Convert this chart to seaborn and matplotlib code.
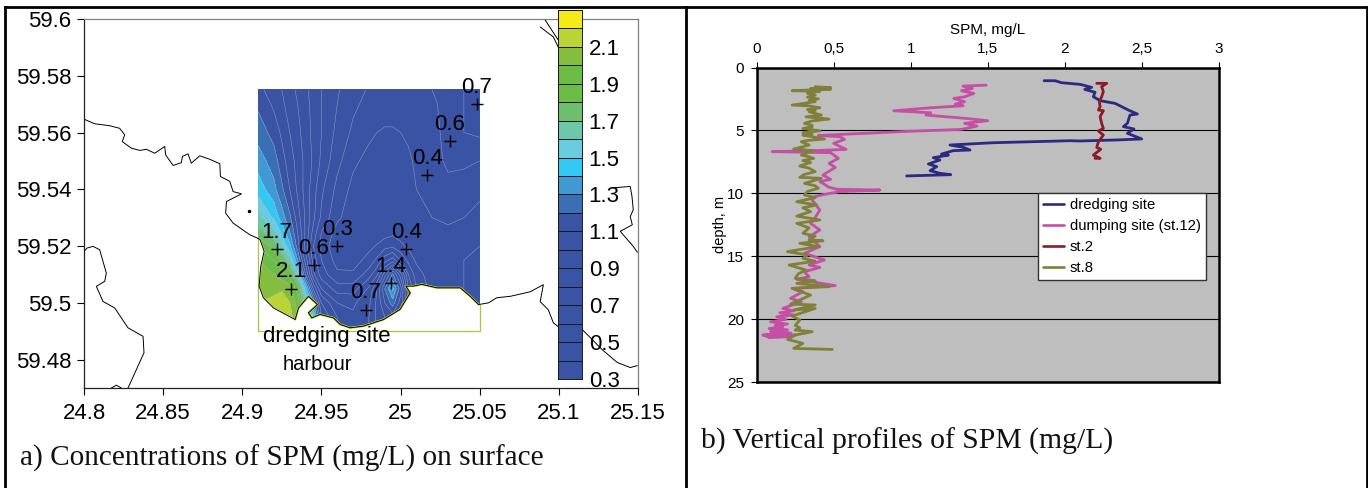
"""
SPM near the dredging site: surface map (a) and vertical profiles (b).

CORRECT COMMAND TO RUN:
    python3 plot.py
"""

import matplotlib
matplotlib.use("Agg")

import matplotlib.pyplot as plt
import numpy as np
import pandas as pd
import seaborn as sns
from matplotlib.colors import BoundaryNorm, ListedColormap
from matplotlib.lines import Line2D

W, H = 1368, 488

# ---------------------------------------------------------------------------
# Data: map
# ---------------------------------------------------------------------------
station_lon = [25.048, 25.031, 25.017, 25.0035, 24.994, 24.978, 24.960, 24.945, 24.922, 24.931]
station_lat = [59.570, 59.557, 59.545, 59.519, 59.507, 59.4976, 59.520, 59.5134, 59.519, 59.505]
station_val = ["0.7", "0.6", "0.4", "0.4", "1.4", "0.7", "0.3", "0.6", "1.7", "2.1"]

field_lon = [24.91, 24.92, 24.925, 24.93, 24.935, 24.94, 24.945, 24.95, 24.96, 24.97, 24.98,
             24.985, 24.99, 24.995, 25.00, 25.005, 25.01, 25.02, 25.03, 25.04, 25.05]
field_lat = [59.49, 59.495, 59.50, 59.505, 59.51, 59.515, 59.52, 59.525, 59.53, 59.54,
             59.55, 59.56, 59.57, 59.575]
field_spm = [
    [2.15, 2.18, 2.18, 2.15, 2.00, 1.80, 1.50, 1.00, 0.80, 0.72, 0.80, 0.92, 1.00, 1.05, 0.90, 0.70, 0.50, 0.36, 0.32, 0.30, 0.30],
    [2.15, 2.18, 2.18, 2.15, 2.00, 1.80, 1.50, 1.00, 0.80, 0.72, 0.80, 0.92, 1.00, 1.05, 0.90, 0.70, 0.50, 0.36, 0.32, 0.30, 0.30],
    [2.10, 2.15, 2.18, 2.10, 1.95, 1.60, 1.30, 0.90, 0.70, 0.68, 0.78, 0.92, 1.10, 1.25, 1.05, 0.80, 0.55, 0.36, 0.32, 0.30, 0.30],
    [2.08, 2.05, 2.08, 2.05, 1.85, 1.45, 0.98, 0.70, 0.55, 0.55, 0.72, 0.90, 1.20, 1.42, 1.15, 0.70, 0.50, 0.36, 0.32, 0.30, 0.30],
    [2.05, 2.00, 1.95, 1.85, 1.55, 1.10, 0.72, 0.55, 0.42, 0.42, 0.55, 0.68, 0.95, 1.22, 0.95, 0.60, 0.45, 0.34, 0.31, 0.30, 0.30],
    [2.00, 1.90, 1.78, 1.62, 1.30, 0.95, 0.65, 0.50, 0.36, 0.35, 0.44, 0.52, 0.66, 0.75, 0.60, 0.47, 0.38, 0.33, 0.31, 0.30, 0.30],
    [1.90, 1.76, 1.60, 1.42, 1.15, 0.85, 0.60, 0.47, 0.32, 0.33, 0.37, 0.41, 0.46, 0.48, 0.42, 0.38, 0.35, 0.32, 0.31, 0.31, 0.30],
    [1.74, 1.62, 1.47, 1.30, 1.10, 0.88, 0.66, 0.50, 0.36, 0.31, 0.31, 0.33, 0.35, 0.37, 0.36, 0.35, 0.35, 0.37, 0.38, 0.36, 0.33],
    [1.63, 1.48, 1.35, 1.22, 1.05, 0.88, 0.72, 0.58, 0.42, 0.34, 0.31, 0.31, 0.31, 0.32, 0.33, 0.34, 0.36, 0.40, 0.42, 0.40, 0.36],
    [1.46, 1.33, 1.22, 1.10, 0.98, 0.86, 0.74, 0.62, 0.47, 0.37, 0.33, 0.33, 0.34, 0.35, 0.36, 0.38, 0.40, 0.45, 0.47, 0.45, 0.43],
    [1.35, 1.25, 1.14, 1.05, 0.96, 0.87, 0.78, 0.68, 0.53, 0.42, 0.37, 0.36, 0.36, 0.37, 0.38, 0.39, 0.41, 0.46, 0.52, 0.52, 0.50],
    [1.26, 1.16, 1.08, 1.00, 0.93, 0.85, 0.77, 0.70, 0.57, 0.48, 0.42, 0.40, 0.39, 0.39, 0.40, 0.41, 0.42, 0.46, 0.54, 0.60, 0.62],
    [1.18, 1.08, 1.02, 0.96, 0.90, 0.83, 0.77, 0.70, 0.60, 0.52, 0.47, 0.45, 0.44, 0.44, 0.45, 0.46, 0.47, 0.49, 0.52, 0.60, 0.70],
    [1.13, 1.05, 1.00, 0.94, 0.88, 0.82, 0.76, 0.70, 0.61, 0.54, 0.49, 0.47, 0.46, 0.46, 0.47, 0.48, 0.49, 0.50, 0.52, 0.60, 0.68],
]

level_edges = [0.3, 0.4, 0.5, 0.6, 0.7, 0.8, 0.9, 1.0, 1.1, 1.2, 1.3,
               1.4, 1.5, 1.6, 1.7, 1.8, 1.9, 2.0, 2.1, 2.2, 2.3]
level_colors = ["#3A53A4"] * 9 + ["#3A6FB5", "#4099D4", "#33C8F4", "#6ACCDE", "#6CC8A8",
                                  "#6DBE6D", "#6BBD45", "#6BBD45", "#84BD3F", "#B9D433",
                                  "#F7EB17"]
colorbar_ticks = [0.3, 0.5, 0.7, 0.9, 1.1, 1.3, 1.5, 1.7, 1.9, 2.1]

# coastline pieces, lon / lat
coast_north_lon = [24.800, 24.8067, 24.8162, 24.8225, 24.8257, 24.8242, 24.8299, 24.8352, 24.8394,
                   24.8447, 24.851, 24.8516, 24.8563, 24.8615, 24.8622, 24.8657, 24.8678, 24.8731,
                   24.8794, 24.8858, 24.8862, 24.8921, 24.8942, 24.8995, 24.8900, 24.8895, 24.8942,
                   24.9047, 24.91]
coast_north_lat = [59.5647, 59.5631, 59.5624, 59.5615, 59.5592, 59.5568, 59.5545, 59.5537, 59.5541,
                   59.5527, 59.5551, 59.5521, 59.5484, 59.5494, 59.5516, 59.5525, 59.5492, 59.5518,
                   59.5506, 59.5490, 59.5445, 59.5428, 59.5392, 59.5384, 59.5357, 59.5316, 59.5281,
                   59.5240, 59.5227]

coast_bay_lon = [24.91, 24.9112, 24.9138, 24.9117, 24.9106, 24.9133, 24.9197, 24.9334, 24.9355,
                 24.9418, 24.9475, 24.9418, 24.9439, 24.9492, 24.9576, 24.9618, 24.9681, 24.9766,
                 24.9892, 24.9997, 25.0061, 25.0033, 25.0082, 25.0134, 25.0229, 25.0377, 25.0440,
                 25.0493]
coast_bay_lat = [59.5227, 59.5223, 59.5182, 59.5129, 59.5059, 59.5018, 59.4982, 59.4941, 59.4982,
                 59.5023, 59.4994, 59.4965, 59.4947, 59.4959, 59.4947, 59.4924, 59.4912, 59.4918,
                 59.4941, 59.4977, 59.5035, 59.5059, 59.5059, 59.5065, 59.5053, 59.5053, 59.5023,
                 59.4994]

coast_east_lon = [25.0493, 25.0556, 25.0608, 25.0693, 25.0819, 25.0902, 25.0882, 25.0933, 25.0965,
                  25.0996, 25.1148, 25.1274, 25.1369, 25.1451, 25.1496]
coast_east_lat = [59.4994, 59.5000, 59.5018, 59.5023, 59.5039, 59.5064, 59.5004, 59.4976, 59.4930,
                  59.4916, 59.4906, 59.4835, 59.4790, 59.4772, 59.4779]

coast_ne_lon = [25.1336, 25.1451, 25.1462, 25.147, 25.1451, 25.1464, 25.1388, 25.147, 25.1496]
coast_ne_lat = [59.5405, 59.5410, 59.5375, 59.5328, 59.5304, 59.5275, 59.5252, 59.5199, 59.5178]

coast_top1_lon = [25.0882, 25.0965, 25.0996]
coast_top1_lat = [59.5972, 59.5937, 59.5901]
coast_top2_lon = [25.0914, 25.0996]
coast_top2_lat = [59.5996, 59.5926]

coast_west_lon = [24.800, 24.8019, 24.8057, 24.8099, 24.8141, 24.8131, 24.8078, 24.8120, 24.8194,
                  24.8278, 24.8373, 24.8379, 24.8278]
coast_west_lat = [59.5181, 59.5193, 59.5199, 59.5187, 59.5105, 59.5076, 59.5058, 59.5005, 59.4982,
                  59.4912, 59.4882, 59.4824, 59.4700]
coast_south_lon = [24.8173, 24.8204, 24.8236]
coast_south_lat = [59.470, 59.471, 59.470]

map_xticks = [24.8, 24.85, 24.9, 24.95, 25, 25.05, 25.1, 25.15]
map_yticks = [59.48, 59.5, 59.52, 59.54, 59.56, 59.58, 59.6]

# ---------------------------------------------------------------------------
# Data: profiles (SPM mg/L, depth m)
# ---------------------------------------------------------------------------
dredging_spm = [1.866, 1.937, 1.98, 2.10, 2.175, 2.13, 2.197, 2.186, 2.23, 2.327, 2.413, 2.472, 2.424,
                2.407, 2.381, 2.45, 2.407, 2.50, 2.338, 2.10, 2.035, 1.537, 1.255, 1.342, 1.385, 1.277,
                1.20, 1.245, 1.147, 1.19, 1.115, 1.169, 1.126, 1.19, 1.26, 0.974]
dredging_depth = [1.05, 1.05, 1.21, 1.34, 1.58, 1.74, 1.97, 2.32, 2.64, 2.85, 3.38, 3.70, 3.78,
                  4.44, 4.70, 4.89, 5.23, 5.68, 5.76, 5.84, 5.82, 5.98, 6.16, 6.35, 6.56, 6.61,
                  6.88, 6.96, 7.17, 7.35, 7.67, 7.88, 8.20, 8.41, 8.52, 8.62]

dumping_spm = [1.49, 1.34, 1.40, 1.33, 1.41, 1.35, 1.28, 1.35, 1.29, 1.34, 1.13, 0.89, 1.13, 1.10, 1.36,
               1.50, 1.35, 1.43, 1.33, 0.97, 0.40, 0.54, 0.57, 0.50, 0.58, 0.37, 0.10, 0.48, 0.53, 0.47,
               0.51, 0.43, 0.48, 0.41, 0.47, 0.52, 0.80, 0.54, 0.42, 0.36, 0.36, 0.41, 0.37, 0.35, 0.41,
               0.34, 0.41, 0.31, 0.44, 0.34, 0.41, 0.31, 0.34, 0.26, 0.51, 0.23, 0.30, 0.22, 0.29, 0.17,
               0.24, 0.15, 0.24, 0.13, 0.19, 0.09, 0.20, 0.12, 0.17, 0.08, 0.20, 0.09, 0.22, 0.04, 0.25,
               0.06, 0.20, 0.08]
dumping_depth = [1.40, 1.48, 1.67, 1.85, 2.06, 2.33, 2.46, 2.72, 2.91, 3.04, 3.20, 3.44, 3.60, 3.78, 4.05,
                 4.23, 4.44, 4.66, 4.92, 5.08, 5.40, 5.50, 5.71, 6.03, 6.51, 6.61, 6.69, 6.77, 7.22, 7.62,
                 7.94, 8.55, 8.89, 9.07, 9.52, 9.68, 9.74, 9.87, 10.13, 10.32, 10.53, 11.33, 12.12, 12.39,
                 12.92, 13.45, 14.24, 14.77, 15.30, 15.70, 15.89, 16.23, 16.63, 16.84, 17.34, 17.56, 17.82,
                 18.35, 18.62, 19.15, 19.35, 19.50, 19.68, 19.81, 20.02, 20.21, 20.40, 20.50, 20.60, 20.75,
                 20.85, 21.00, 21.10, 21.27, 21.27, 21.35, 21.40, 21.48]

st2_spm = [2.208, 2.273, 2.24, 2.251, 2.24, 2.225, 2.23, 2.219, 2.251, 2.23, 2.24, 2.251, 2.219, 2.251,
           2.219, 2.208, 2.234, 2.186, 2.23, 2.197]
st2_depth = [1.26, 1.26, 1.52, 1.92, 2.32, 2.72, 3.11, 3.38, 3.43, 3.91, 4.44, 4.84, 5.05, 5.37,
             5.90, 6.35, 6.50, 6.96, 7.22, 7.22]

st8_spm = [0.38, 0.48, 0.35, 0.48, 0.23, 0.41, 0.33, 0.38, 0.33, 0.40,
           0.34, 0.38, 0.23, 0.34, 0.41, 0.33, 0.38, 0.34, 0.42, 0.32,
           0.47, 0.36, 0.31, 0.36, 0.36, 0.30, 0.41, 0.30, 0.36, 0.30,
           0.44, 0.33, 0.29, 0.34, 0.30, 0.24, 0.37, 0.29, 0.34, 0.37,
           0.30, 0.35, 0.28, 0.34, 0.38, 0.31, 0.28, 0.42, 0.31, 0.38,
           0.40, 0.33, 0.31, 0.38, 0.26, 0.39, 0.30, 0.35, 0.26, 0.41,
           0.26, 0.34, 0.30, 0.38, 0.34, 0.43, 0.28, 0.40, 0.29, 0.20,
           0.33, 0.30, 0.38, 0.21, 0.32, 0.27, 0.25, 0.38, 0.26, 0.47,
           0.23, 0.35, 0.28, 0.22, 0.38, 0.24, 0.38, 0.23, 0.28, 0.25,
           0.28, 0.25, 0.36, 0.25, 0.20, 0.30, 0.24, 0.49]
st8_depth = [1.53, 1.60, 1.68, 1.72, 1.85, 1.88, 2.05, 2.20, 2.35, 2.50,
             2.62, 2.72, 2.99, 3.05, 3.20, 3.35, 3.45, 3.52, 3.78, 3.92,
             4.10, 4.25, 4.44, 4.60, 4.71, 4.85, 5.03, 5.20, 5.30, 5.37,
             5.69, 5.80, 5.90, 6.16, 6.30, 6.48, 6.61, 6.96, 7.10, 7.22,
             7.40, 7.55, 7.83, 8.00, 8.28, 8.50, 8.73, 8.81, 9.21, 9.40,
             9.60, 9.85, 10.13, 10.35, 10.67, 10.93, 11.15, 11.46, 11.81, 12.12,
             12.39, 12.75, 13.18, 13.40, 13.71, 13.77, 13.98, 14.24, 14.45, 14.64,
             14.90, 15.17, 15.40, 15.70, 16.10, 16.40, 16.76, 16.95, 17.16, 17.42,
             17.56, 18.09, 18.48, 18.80, 18.88, 19.28, 19.15, 19.76, 20.07, 20.50,
             20.70, 20.87, 21.00, 21.27, 21.61, 21.93, 22.33, 22.41]

profile_names = ["dredging site", "dumping site (st.12)", "st.2", "st.8"]
profile_colors = ["#2B2A80", "#C44FA5", "#8B1A2B", "#80803A"]
profile_xticks = [0, 0.5, 1, 1.5, 2, 2.5, 3]
profile_yticks = [0, 5, 10, 15, 20, 25]


def px_axes(fig, x0, y0, x1, y1):
    # axes rectangle from picture pixels (y measured from the top)
    return fig.add_axes([x0 / W, 1 - y1 / H, (x1 - x0) / W, (y1 - y0) / H])


def draw_map(fig):
    ax = px_axes(fig, 84, 19, 638, 388)

    cmap = ListedColormap(level_colors)
    cmap.set_under(level_colors[0])
    cmap.set_over(level_colors[-1])
    norm = BoundaryNorm(level_edges, cmap.N)
    ax.contourf(field_lon, field_lat, field_spm, levels=level_edges, cmap=cmap, norm=norm,
                extend="both", zorder=1)
    ax.contour(field_lon, field_lat, field_spm, levels=level_edges, colors="#A9B5DA",
               linewidths=0.35, alpha=0.8, zorder=1.5)

    # land south of the bay coast, inside the model frame
    land_lon = coast_bay_lon + [25.05, 25.05, 24.91]
    land_lat = coast_bay_lat + [59.4994, 59.49, 59.49]
    ax.fill(land_lon, land_lat, color="white", zorder=2)
    ax.plot([24.91, 24.91, 25.05, 25.05], [59.5227, 59.49, 59.49, 59.4994],
            color="#A4C93C", lw=0.9, zorder=3)
    ax.plot(coast_bay_lon[7:], coast_bay_lat[7:], color="#C4D82E", lw=1.6, zorder=3)

    pieces = [
        (coast_north_lon, coast_north_lat), (coast_bay_lon, coast_bay_lat),
        (coast_east_lon, coast_east_lat), (coast_ne_lon, coast_ne_lat),
        (coast_top1_lon, coast_top1_lat), (coast_top2_lon, coast_top2_lat),
        (coast_west_lon, coast_west_lat), (coast_south_lon, coast_south_lat),
    ]
    for lon, lat in pieces:
        ax.plot(lon, lat, color="black", lw=0.7, zorder=4)
    ax.plot([24.9043], [59.5322], marker="o", ms=1.5, color="black", zorder=4)

    sns.scatterplot(x=station_lon, y=station_lat, marker="+", s=70, color="black",
                    linewidth=1.0, ax=ax, zorder=5)
    for lon, lat, val in zip(station_lon, station_lat, station_val):
        ax.annotate(val, (lon, lat), xytext=(0, 12), textcoords="offset points",
                    ha="center", va="center", fontsize=16, zorder=6)

    ax.text(24.9536, 59.4882, "dredging site", ha="center", va="center", fontsize=16, zorder=6)
    ax.text(24.9473, 59.4783, "harbour", ha="center", va="center", fontsize=14.5, zorder=6)

    ax.set_xlim(24.8, 25.15)
    ax.set_ylim(59.47, 59.6)
    ax.set_xticks(map_xticks, [f"{v:g}" for v in map_xticks])
    ax.set_yticks(map_yticks, [f"{v:g}" for v in map_yticks])
    ax.tick_params(axis="both", direction="out", length=5, width=0.8, labelsize=16, pad=4,
                   bottom=True, left=True)
    ax.tick_params(axis="x", pad=6)
    for side in ("left", "bottom"):
        ax.spines[side].set_color("#222222")
        ax.spines[side].set_linewidth(0.9)
    for side in ("top", "right"):
        ax.spines[side].set_color("#808080")
        ax.spines[side].set_linewidth(0.9)

    # colour scale
    cax = px_axes(fig, 558.3, 10, 581.7, 379)
    cax.pcolormesh([0, 1], level_edges, np.array(level_edges[:-1])[:, None] + 0.05, cmap=cmap,
                   norm=norm, edgecolors="#1a1a1a", linewidth=0.7)
    cax.set_xlim(0, 1)
    cax.set_ylim(0.3, 2.3)
    cax.set_xticks([])
    cax.yaxis.tick_right()
    cax.set_yticks(colorbar_ticks, [f"{v:.1f}" for v in colorbar_ticks])
    cax.tick_params(axis="y", length=0, labelsize=16, pad=5, right=False)
    for spine in cax.spines.values():
        spine.set_color("#1a1a1a")
        spine.set_linewidth(0.7)


def draw_profiles(fig):
    ax = px_axes(fig, 756.7, 67.5, 1218.7, 382)
    ax.set_facecolor("#BEBEBE")

    frames = []
    series = [(dredging_spm, dredging_depth), (dumping_spm, dumping_depth),
              (st2_spm, st2_depth), (st8_spm, st8_depth)]
    for name, (spm, depth) in zip(profile_names, series):
        frames.append(pd.DataFrame({"spm": spm, "depth": depth, "site": name}))
    df = pd.concat(frames, ignore_index=True)

    ax.yaxis.grid(True, color="black", lw=0.8)
    ax.xaxis.grid(False)
    ax.set_axisbelow(True)
    sns.lineplot(data=df, x="spm", y="depth", hue="site", hue_order=profile_names,
                 palette=dict(zip(profile_names, profile_colors)), sort=False, estimator=None,
                 lw=2.0, ax=ax)

    ax.set_xlim(0, 3)
    ax.set_ylim(25, 0)
    ax.xaxis.tick_top()
    ax.xaxis.set_label_position("top")
    ax.set_xticks(profile_xticks, [f"{v:g}".replace(".", ",") for v in profile_xticks])
    ax.set_yticks(profile_yticks, [str(v) for v in profile_yticks])
    ax.tick_params(axis="both", direction="out", length=4, width=0.8, labelsize=11, pad=5,
                   top=True, left=True)
    ax.tick_params(axis="x", pad=4)
    ax.set_xlabel("SPM, mg/L", fontsize=11, labelpad=6)
    ax.set_ylabel("depth, m", fontsize=10.5, labelpad=0)
    for spine in ax.spines.values():
        spine.set_color("black")
        spine.set_linewidth(1.8)

    handles = [Line2D([], [], color=c, lw=1.9) for c in profile_colors]
    ax.legend(handles, profile_names, loc="upper left",
              bbox_to_anchor=((1037.7 - 756.7) / 462, 1 - (192.7 - 67.5) / 314.5),
              borderaxespad=0, frameon=True, fancybox=False, framealpha=1, facecolor="white",
              edgecolor="#333333", fontsize=10.7, handlelength=1.4, handletextpad=0.4,
              labelspacing=0.47, borderpad=0.35)


def main():
    sns.set_theme(style="white", rc={"axes.grid": False, "text.color": "black",
                                     "axes.labelcolor": "black", "xtick.color": "black",
                                     "ytick.color": "black"})
    plt.rcParams["font.family"] = ["Liberation Sans", "DejaVu Sans"]

    fig = plt.figure(figsize=(W / 100, H / 100), dpi=100, facecolor="white")

    draw_map(fig)
    draw_profiles(fig)

    fig.text(20 / W, 1 - 458 / H, "a) Concentrations of SPM (mg/L) on surface",
             family="Liberation Serif", fontsize=21.1, ha="left", va="center", color="#111111")
    fig.text(701 / W, 1 - 441 / H, "b) Vertical profiles of SPM (mg/L)",
             family="Liberation Serif", fontsize=21.3, ha="left", va="center", color="#111111")

    # table rules around the two panels
    rule = dict(color="black", lw=2.0, transform=fig.transFigure, solid_capstyle="projecting")
    fig.add_artist(Line2D([5 / W, 1366.5 / W], [1 - 6.5 / H, 1 - 6.5 / H], **rule))
    for x in (5, 686, 1366.5):
        fig.add_artist(Line2D([x / W, x / W], [1 - 6.5 / H, 0], **rule))

    fig.savefig("out.png", dpi=100)
    plt.close(fig)


if __name__ == "__main__":
    main()
